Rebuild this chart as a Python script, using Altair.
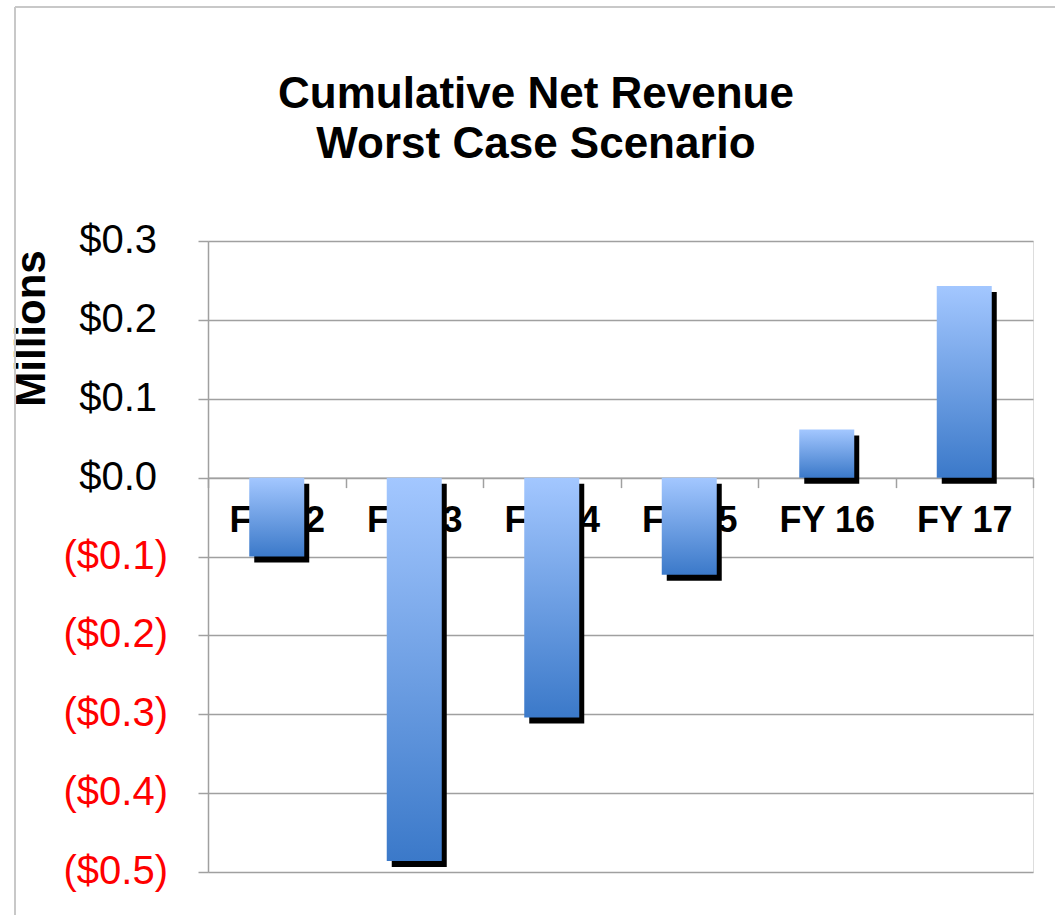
import altair as alt
import pandas as pd

categories = ["FY 12", "FY 13", "FY 14", "FY 15", "FY 16", "FY 17"]
values = [-0.100, -0.486, -0.304, -0.123, 0.061, 0.243]
y_ticks = [0.3, 0.2, 0.1, 0.0, -0.1, -0.2, -0.3, -0.4, -0.5]
title_lines = ["Cumulative Net Revenue", "Worst Case Scenario"]

df = pd.DataFrame({"cat": categories, "value": values})
ticks_df = pd.DataFrame({"v": y_ticks})

FONT = "Liberation Sans"
W, H = 825, 631
YMIN, YMAX = -0.5, 0.3
zero_pos = H * (YMAX - 0) / (YMAX - YMIN)
GRAY = "#A0A0A0"
yscale = alt.Scale(domain=[YMIN, YMAX], nice=False)

x_enc = alt.X(
    "cat:N",
    sort=categories,
    scale=alt.Scale(paddingInner=0, paddingOuter=0),
    axis=alt.Axis(
        title=None,
        offset=-(H - zero_pos),
        tickBand="extent",
        labelAngle=0,
        labelFont=FONT,
        labelFontSize=36,
        labelFontWeight="bold",
        labelColor="black",
        labelPadding=16,
        domainColor=GRAY,
        domainWidth=1.5,
        tickColor=GRAY,
        tickWidth=1.5,
        tickSize=10,
        grid=False,
    ),
)

y_axis = alt.Axis(
    values=y_ticks,
    labels=False,
    tickSize=10,
    tickColor=GRAY,
    tickWidth=1.5,
    domainColor=GRAY,
    domainWidth=1.5,
    gridColor=GRAY,
    gridWidth=1.5,
    title="Millions",
    titleFont=FONT,
    titleFontSize=42,
    titleFontWeight="bold",
    titleColor="black",
    titleAngle=270,
    titleAlign="center",
    titleBaseline="middle",
    titleX=-177,
    titleY=87,
)

y_enc = alt.Y("value:Q", scale=yscale, axis=y_axis)

shadow = alt.Chart(df).mark_bar(color="black", size=55, xOffset=5, yOffset=6).encode(
    x=x_enc, y=y_enc
)

bars = alt.Chart(df).mark_bar(
    size=55,
    color=alt.Gradient(
        gradient="linear",
        stops=[
            alt.GradientStop(color="#A3C7FF", offset=0),
            alt.GradientStop(color="#3B79C9", offset=1),
        ],
        x1=0, x2=0, y1=0, y2=1,
    ),
).encode(x=x_enc, y=y_enc)

# y tick labels: accounting style, negatives red in parentheses
neg_labels = alt.Chart(ticks_df).transform_filter("datum.v < -0.00001").transform_calculate(
    lab="'($' + format(-datum.v, '.1f') + ')'"
).mark_text(font=FONT, fontSize=40, color="#FF0000", align="right", baseline="middle").encode(
    y=alt.Y("v:Q", scale=yscale, axis=y_axis), x=alt.value(-40), text="lab:N"
)
pos_labels = alt.Chart(ticks_df).transform_filter("datum.v >= -0.00001").transform_calculate(
    lab="'$' + format(abs(datum.v), '.1f')"
).mark_text(font=FONT, fontSize=40, color="black", align="right", baseline="middle").encode(
    y=alt.Y("v:Q", scale=yscale, axis=y_axis), x=alt.value(-51), text="lab:N"
)

one = pd.DataFrame({"a": [0]})
frame_left = alt.Chart(one).mark_rule(color="#C8C8C8", strokeWidth=2).encode(
    x=alt.value(-193), y=alt.value(-234), y2=alt.value(680)
)
frame_top = alt.Chart(one).mark_rule(color="#C8C8C8", strokeWidth=2).encode(
    x=alt.value(-193), x2=alt.value(850), y=alt.value(-234)
)

title = alt.Chart(one).mark_text(
    text=title_lines,
    font=FONT,
    fontSize=44,
    fontWeight="bold",
    color="black",
    align="center",
    baseline="alphabetic",
    lineHeight=50,
).encode(x=alt.value(536 - 208), y=alt.value(108 - 241))

chart = alt.layer(
    shadow, bars, neg_labels, pos_labels, frame_left, frame_top, title
).properties(
    width=W,
    height=H,
    autosize="none",
    padding={"left": 208, "top": 241, "right": 22, "bottom": 43},
).configure_view(stroke=None).configure(background="white")

chart.save("out.html", embed_options={"renderer": "svg", "actions": False})
